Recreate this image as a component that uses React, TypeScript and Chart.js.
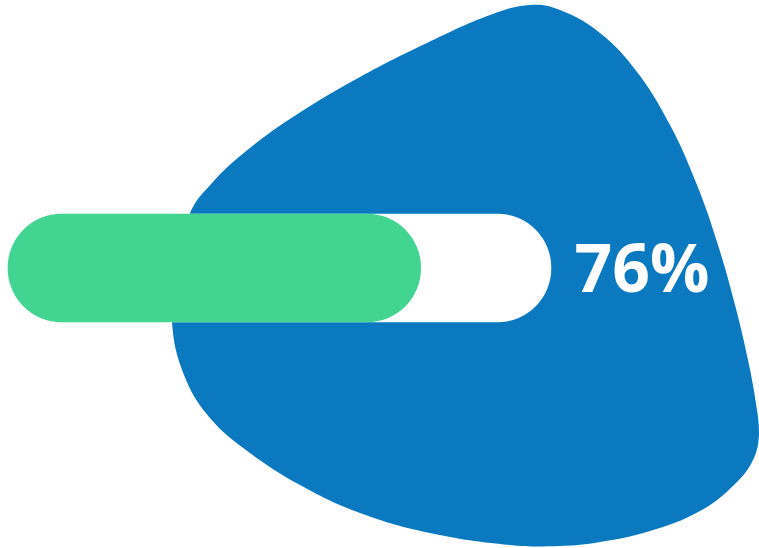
import React, { useEffect, useRef } from "react";
import { Chart, registerables } from "chart.js";

Chart.register(...registerables);

// Blob outline (page-pixel units on hidden linear axes), starting behind the bar
const blobX = [176, 172, 184, 210, 250, 300, 360, 430, 510, 560, 600, 650, 700, 735, 753, 759, 757, 748, 735, 718, 697, 670, 637, 600, 560, 530, 490, 427, 360, 293, 245, 212, 190, 176];
const blobY = [268, 322, 375, 418, 453, 485, 513, 533, 545, 546, 542, 531, 511, 484, 460, 435, 410, 360, 305, 245, 185, 125, 72, 33, 10, 5, 15, 43, 77, 117, 152, 183, 213, 268];

// Progress bar values
const trackRange = [0, 100];
const progressValues = [76];
const percentLabels = progressValues.map((v) => `${v}%`);

const BLUE = "#0B79BF";
const GREEN = "#42D591";

export default function App() {
  const canvasRef = useRef<HTMLCanvasElement | null>(null);

  useEffect(() => {
    const canvas = canvasRef.current;
    if (!canvas) return;

    const labelPlugin = {
      id: "percentLabel",
      afterDatasetsDraw(chart: any) {
        const ctx = chart.ctx;
        const xs = chart.scales.x;
        const ys = chart.scales.y;
        ctx.save();
        ctx.fillStyle = "#ffffff";
        ctx.font = "700 66px 'Open Sans', sans-serif";
        ctx.textAlign = "center";
        ctx.textBaseline = "alphabetic";
        ctx.fillText(percentLabels[0], xs.getPixelForValue(642), ys.getPixelForValue(292));
        ctx.restore();
      },
    };

    const chart = new Chart(canvas, {
      type: "scatter",
      data: {
        datasets: [
          {
            type: "bar",
            indexAxis: "y",
            xAxisID: "xBar",
            yAxisID: "y",
            data: [{ x: [trackRange[0], progressValues[0]], y: 268 }],
            backgroundColor: GREEN,
            borderWidth: 0,
            borderRadius: 60,
            borderSkipped: false,
            barThickness: 108,
            grouped: false,
            order: 1,
          } as any,
          {
            type: "bar",
            indexAxis: "y",
            xAxisID: "xBar",
            yAxisID: "y",
            data: [{ x: [trackRange[0], trackRange[1]], y: 268 }],
            backgroundColor: "#ffffff",
            borderWidth: 0,
            borderRadius: 60,
            borderSkipped: false,
            barThickness: 108,
            grouped: false,
            order: 2,
          } as any,
          {
            type: "scatter",
            xAxisID: "x",
            yAxisID: "y",
            data: blobX.map((x, i) => ({ x, y: blobY[i] })),
            showLine: true,
            fill: "shape",
            backgroundColor: BLUE,
            borderColor: BLUE,
            borderWidth: 0,
            pointRadius: 0,
            tension: 0.4,
            order: 3,
          } as any,
        ],
      },
      options: {
        animation: false,
        responsive: false,
        maintainAspectRatio: false,
        layout: { padding: 0 },
        plugins: {
          legend: { display: false },
          tooltip: { enabled: false },
          title: { display: false },
        },
        events: [],
        scales: {
          x: { type: "linear", min: 0, max: 759, offset: false, display: false },
          y: { type: "linear", min: 0, max: 548, reverse: true, offset: false, display: false },
          xBar: { type: "linear", axis: "x", min: -1.473, max: 138.31, offset: false, display: false },
        },
      } as any,
      plugins: [labelPlugin],
    });

    return () => chart.destroy();
  }, []);

  return (
    <div style={{ position: "fixed", left: 0, top: 0, width: 759, height: 548, background: "#ffffff" }}>
      <canvas ref={canvasRef} width={759} height={548} style={{ display: "block" }} />
    </div>
  );
}
